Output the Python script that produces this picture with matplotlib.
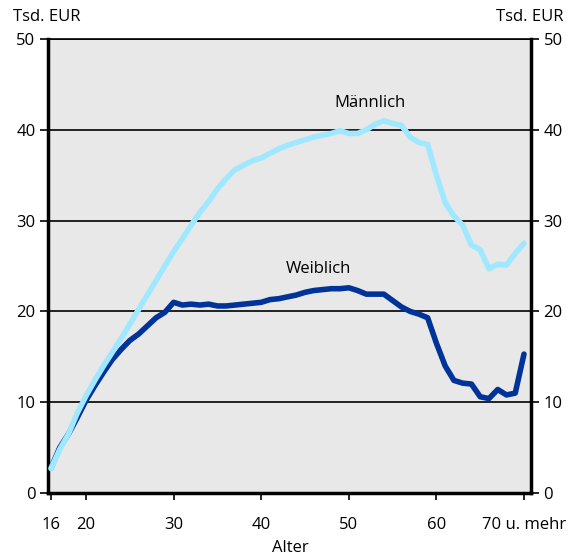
import numpy as np
import matplotlib.pyplot as plt

plt.rcParams['font.family'] = ['Open Sans', 'DejaVu Sans']

alter = list(range(16, 71))
weiblich = [2.75, 5.0, 6.5, 8.3, 10.2, 11.8, 13.3, 14.7, 15.8, 16.8,
            17.5, 18.4, 19.3, 19.9, 21.0, 20.7, 20.8, 20.7, 20.8, 20.6,
            20.6, 20.7, 20.8, 20.9, 21.0, 21.3, 21.4, 21.6, 21.8, 22.1,
            22.3, 22.4, 22.5, 22.5, 22.6, 22.3, 21.9, 21.9, 21.9, 21.2,
            20.5, 20.0, 19.7, 19.3, 16.5, 14.0, 12.4, 12.1, 12.0, 10.6,
            10.4, 11.4, 10.8, 11.0, 15.3]
maennlich = [2.7, 4.8, 6.5, 8.8, 10.7, 12.4, 14.0, 15.5, 17.0, 18.6,
             20.2, 21.8, 23.4, 25.0, 26.6, 28.0, 29.5, 30.9, 32.1, 33.5,
             34.6, 35.6, 36.1, 36.6, 36.9, 37.4, 37.9, 38.3, 38.6, 38.9,
             39.2, 39.4, 39.6, 39.9, 39.6, 39.6, 40.0, 40.6, 41.0, 40.7,
             40.5, 39.2, 38.6, 38.4, 35.0, 32.0, 30.5, 29.5, 27.3, 26.8,
             24.7, 25.2, 25.1, 26.4, 27.5]
xticks = [16, 20, 30, 40, 50, 60, 70]
xticklabels = ['16', '20', '30', '40', '50', '60', '70 u. mehr']
yticks = [0, 10, 20, 30, 40, 50]

fig = plt.figure(figsize=(5.81, 5.58), dpi=100)
ax = fig.add_axes([48/581, 1-493/558, (531-48)/581, (493-39)/558])
ax.set_facecolor('#e8e8e8')

for v in yticks[1:]:
    ax.axhline(v, color='black', lw=1.2, zorder=1)

ax.plot(alter, weiblich, color='#003399', lw=4, solid_capstyle='round', zorder=3)
ax.plot(alter, maennlich, color='#a0e8ff', lw=4, solid_capstyle='round', zorder=4)

ax.set_xlim(15.66, 70.8)
ax.set_ylim(0, 50)
ax.set_xticks(xticks)
ax.set_xticklabels(xticklabels)
ax.set_yticks(yticks)
ax.tick_params(axis='x', direction='out', length=5, width=1.2, pad=12, labelsize=12)
ax.tick_params(axis='y', direction='out', length=6, width=1.2, pad=3, labelsize=12,
               left=True, right=True, labelleft=True, labelright=True)

for s in ['left', 'right', 'bottom']:
    ax.spines[s].set_linewidth(2.5)
ax.spines['top'].set_linewidth(1.2)

ax.text(52.4, 42.95, 'Männlich', fontsize=12, ha='center', va='center')
ax.text(46.5, 24.7, 'Weiblich', fontsize=12, ha='center', va='center')
fig.text(13/581, 1-17/558, 'Tsd. EUR', fontsize=12, ha='left', va='center')
fig.text(563/581, 1-17/558, 'Tsd. EUR', fontsize=12, ha='right', va='center')
fig.text(290/581, 1-548/558, 'Alter', fontsize=12, ha='center', va='center')

fig.savefig('out.png', dpi=100)
